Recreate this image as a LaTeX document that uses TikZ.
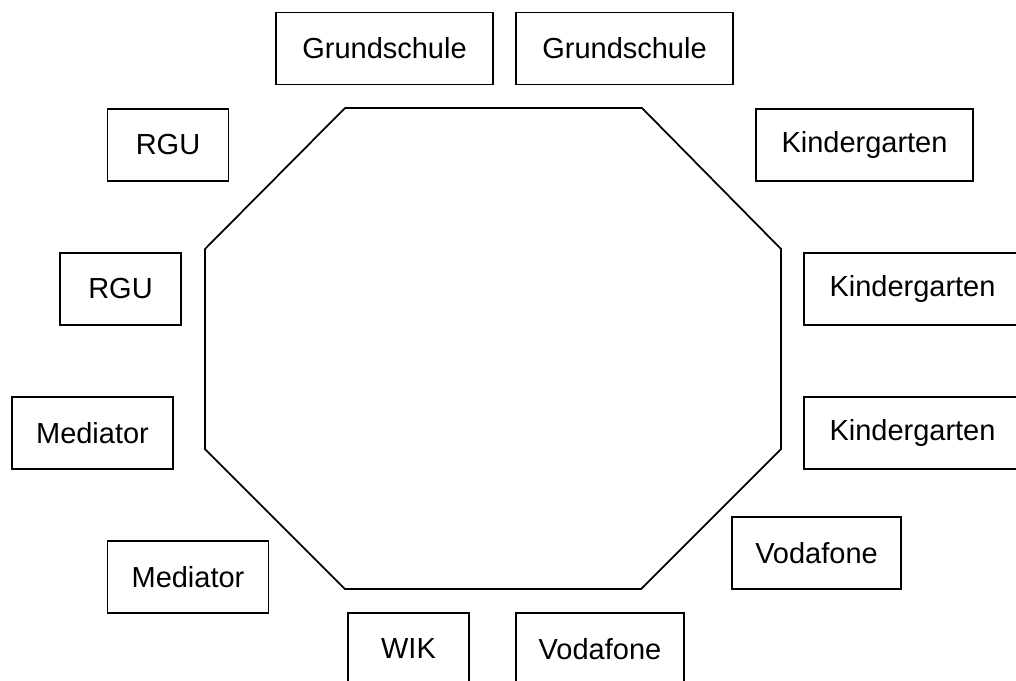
\documentclass[tikz,border=0pt]{standalone}
\usepackage{fontspec}
\setmainfont{Liberation Sans}
\usepackage{tikz}
\usetikzlibrary{positioning}

\tikzset{
	box/.style={draw, line width=1pt, minimum height=1.44cm, inner sep=0pt, font=\fontsize{16.5}{20}\selectfont},
	wide/.style={box, minimum width=4.34cm},
	narrow/.style={box, minimum width=2.42cm},
	mid/.style={box, minimum width=3.22cm},
	octo/.style={line width=1pt, line join=miter}
}

\begin{document}
\begin{tikzpicture}[x=0.02cm, y=-0.02cm]
	 \useasboundingbox (0,0) rectangle (1016,680);
	 \clip (0,0) rectangle (1016,680);
	 % the big octagon in the middle
	 \coordinate (o1) at (345,108);
	 \coordinate (o2) at (642,108);
	 \coordinate (o3) at (781,249);
	 \coordinate (o4) at (781,449);
	 \coordinate (o5) at (641,589);
	 \coordinate (o6) at (345,589);
	 \coordinate (o7) at (205,449);
	 \coordinate (o8) at (205,249);
	 \draw[octo] (o1) -- (o2) -- (o3) -- (o4) -- (o5) -- (o6) -- (o7) -- (o8) -- cycle;
	 % boxes round it
	 \node[wide] (gs1) at (384.5,48.5) {Grundschule};
	 \node[wide] (gs2) at (624.5,48.5) {Grundschule};
	 \node[narrow] (rgu1) at (168,145) {RGU};
	 \node[wide] (kg1) at (864.5,145) {Kindergarten};
	 \node[narrow] (rgu2) at (120.5,289) {RGU};
	 \node[wide] (kg2) at (912.5,289) {Kindergarten};
	 \node[mid] (med1) at (92.5,433) {Mediator};
	 \node[wide] (kg3) at (912.5,433) {Kindergarten};
	 \node[mid] (med2) at (188,577) {Mediator};
	 \node[box, minimum width=3.38cm] (voda1) at (816.5,553) {Vodafone};
	 \node[narrow] (wik) at (408.5,649) {WIK};
	 \node[box, minimum width=3.36cm] (voda2) at (600,649) {Vodafone};
\end{tikzpicture}
\end{document}
